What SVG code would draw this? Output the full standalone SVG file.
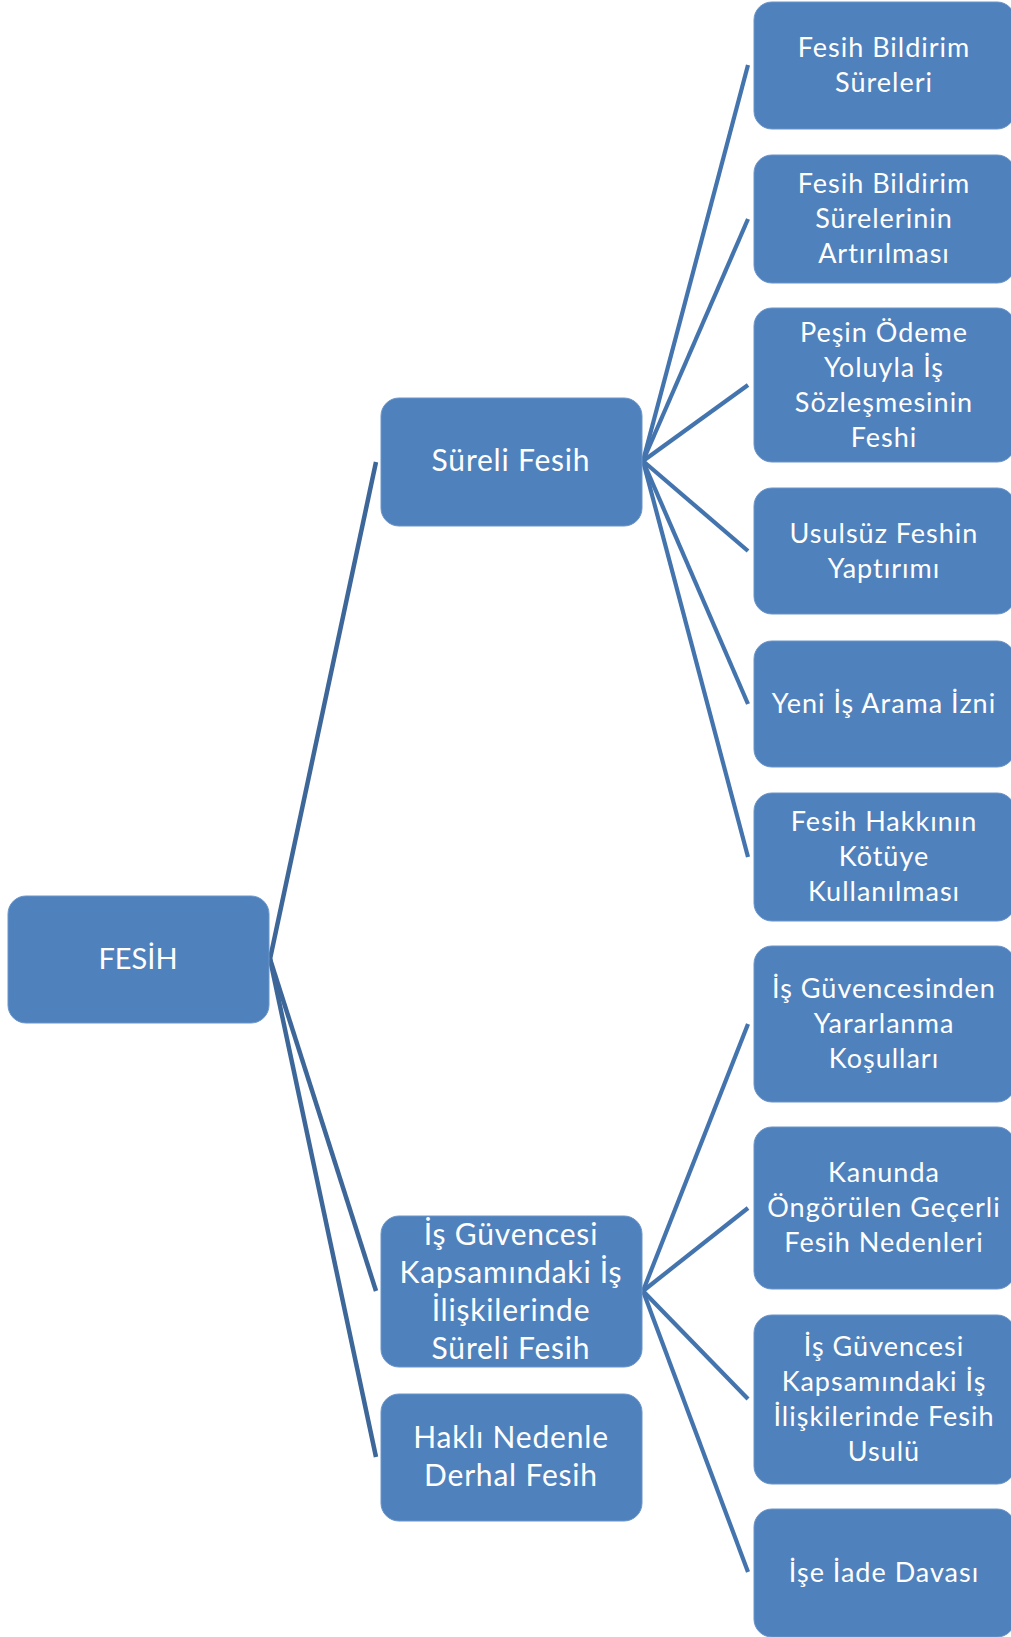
<svg xmlns="http://www.w3.org/2000/svg" width="1011" height="1637" viewBox="0 0 1011 1637">
<style>
.box{fill:#4f81bd;stroke:#6b94c8;stroke-width:1}
.t{fill:#ffffff;font-family:Lato,"Open Sans","Liberation Sans",sans-serif;text-anchor:middle}
.big{font-size:30px;letter-spacing:0.8px}
.root{font-size:29px}
.sm{font-size:27px;letter-spacing:1px}
.c1{stroke:#3d6699;stroke-width:4.5;fill:none}
.c2{stroke:#4474ad;stroke-width:4.2;fill:none}
</style>
<rect width="1011" height="1637" fill="#ffffff"/>
<g id="connectors">
<line class="c1" x1="270" y1="959" x2="376" y2="462"/>
<line class="c1" x1="270" y1="959" x2="376" y2="1291"/>
<line class="c1" x1="270" y1="959" x2="376" y2="1457"/>
<line class="c2" x1="643" y1="461" x2="748" y2="65"/>
<line class="c2" x1="643" y1="461" x2="748" y2="219"/>
<line class="c2" x1="643" y1="461" x2="748" y2="385"/>
<line class="c2" x1="643" y1="461" x2="748" y2="551"/>
<line class="c2" x1="643" y1="461" x2="748" y2="704"/>
<line class="c2" x1="643" y1="461" x2="748" y2="857"/>
<line class="c2" x1="643" y1="1291" x2="748" y2="1024"/>
<line class="c2" x1="643" y1="1291" x2="748" y2="1208"/>
<line class="c2" x1="643" y1="1291" x2="748" y2="1399"/>
<line class="c2" x1="643" y1="1291" x2="748" y2="1572"/>
</g>
<g id="fesih">
<rect class="box" x="8" y="896" width="261" height="127" rx="18"/>
<text class="t root" x="138" y="969">FESİH</text>
</g>
<g id="sureli-fesih">
<rect class="box" x="381" y="398" width="261" height="128" rx="18"/>
<text class="t big" x="511" y="471">Süreli Fesih</text>
</g>
<g id="is-guvencesi-sureli-fesih">
<rect class="box" x="381" y="1216" width="261" height="151" rx="18"/>
<text class="t big" x="511" y="1245">İş Güvencesi</text>
<text class="t big" x="511" y="1283">Kapsamındaki İş</text>
<text class="t big" x="511" y="1321">İlişkilerinde</text>
<text class="t big" x="511" y="1359">Süreli Fesih</text>
</g>
<g id="hakli-nedenle">
<rect class="box" x="381" y="1394" width="261" height="127" rx="18"/>
<text class="t big" x="511" y="1448">Haklı Nedenle</text>
<text class="t big" x="511" y="1486">Derhal Fesih</text>
</g>
<g id="bildirim-sureleri">
<rect class="box" x="754" y="2" width="261" height="127" rx="18"/>
<text class="t sm" x="884" y="57">Fesih Bildirim</text>
<text class="t sm" x="884" y="92">Süreleri</text>
</g>
<g id="bildirim-artirilmasi">
<rect class="box" x="754" y="155" width="261" height="128" rx="18"/>
<text class="t sm" x="884" y="193">Fesih Bildirim</text>
<text class="t sm" x="884" y="228">Sürelerinin</text>
<text class="t sm" x="884" y="263">Artırılması</text>
</g>
<g id="pesin-odeme">
<rect class="box" x="754" y="308" width="261" height="154" rx="18"/>
<text class="t sm" x="884" y="342">Peşin Ödeme</text>
<text class="t sm" x="884" y="377">Yoluyla İş</text>
<text class="t sm" x="884" y="412">Sözleşmesinin</text>
<text class="t sm" x="884" y="447">Feshi</text>
</g>
<g id="usulsuz-fesih">
<rect class="box" x="754" y="488" width="261" height="126" rx="18"/>
<text class="t sm" x="884" y="543">Usulsüz Feshin</text>
<text class="t sm" x="884" y="578">Yaptırımı</text>
</g>
<g id="yeni-is-arama">
<rect class="box" x="754" y="641" width="261" height="126" rx="18"/>
<text class="t sm" x="884" y="713">Yeni İş Arama İzni</text>
</g>
<g id="fesih-hakki-kotuye">
<rect class="box" x="754" y="793" width="261" height="128" rx="18"/>
<text class="t sm" x="884" y="831">Fesih Hakkının</text>
<text class="t sm" x="884" y="866">Kötüye</text>
<text class="t sm" x="884" y="901">Kullanılması</text>
</g>
<g id="yararlanma-kosullari">
<rect class="box" x="754" y="946" width="261" height="156" rx="18"/>
<text class="t sm" x="884" y="998">İş Güvencesinden</text>
<text class="t sm" x="884" y="1033">Yararlanma</text>
<text class="t sm" x="884" y="1068">Koşulları</text>
</g>
<g id="gecerli-fesih-nedenleri">
<rect class="box" x="754" y="1127" width="261" height="162" rx="18"/>
<text class="t sm" x="884" y="1182">Kanunda</text>
<text class="t sm" x="884" y="1217">Öngörülen Geçerli</text>
<text class="t sm" x="884" y="1252">Fesih Nedenleri</text>
</g>
<g id="fesih-usulu">
<rect class="box" x="754" y="1315" width="261" height="169" rx="18"/>
<text class="t sm" x="884" y="1356">İş Güvencesi</text>
<text class="t sm" x="884" y="1391">Kapsamındaki İş</text>
<text class="t sm" x="884" y="1426">İlişkilerinde Fesih</text>
<text class="t sm" x="884" y="1461">Usulü</text>
</g>
<g id="ise-iade">
<rect class="box" x="754" y="1509" width="261" height="128" rx="18"/>
<text class="t sm" x="884" y="1582">İşe İade Davası</text>
</g>
</svg>
